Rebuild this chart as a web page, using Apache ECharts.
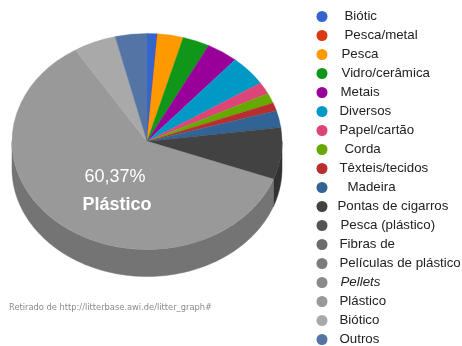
<!DOCTYPE html>
<html>
<head>
<meta charset="utf-8">
<style>html,body{margin:0;padding:0;background:#fff}#chart{width:462px;height:346px}</style>
<script src="https://cdn.jsdelivr.net/npm/echarts@6/dist/echarts.min.js"></script>
</head>
<body>
<div id="chart"></div>
<script>
// Composition of marine litter, percentages per category
const categories = ['Biótic','Pesca/metal','Pesca','Vidro/cerâmica','Metais','Diversos','Papel/cartão','Corda','Têxteis/tecidos','Madeira','Pontas de cigarros','Pesca (plástico)','Fibras de','Películas de plástico','Pellets','Plástico','Biótico','Outros'];
const shares = [1.22,0.04,3.07,3.22,3.78,4.56,1.78,1.53,1.22,2.5,7.72,0.03,0.02,0.03,0.02,60.37,5.1,3.79];
const palette = ['#3366cc','#dc3912','#ff9900','#109618','#990099','#0099c6','#dd4477','#66aa00','#b82e2e','#316395','#424242','#555555','#6c6c6c','#7c7c7c','#8a8a8a','#999999','#a9a9a9','#5574a6'];
// Left padding of each legend label
const labelIndent = [12,12,9,9,8,7,7,12,7,15,5,8,7,7,8,7,7,7];

// Tilted disc geometry
const CX = 147, CY = 141.5, RX = 135, RY = 108, DEPTH = 27;
const total = shares.reduce((a, b) => a + b, 0);
const highlighted = categories.indexOf('Plástico');

function angleBefore(i) {
  let sum = 0;
  for (let k = 0; k < i; k++) sum += shares[k];
  return sum / total * 2 * Math.PI;
}
// Point on the disc edge; angle is clockwise from the top
function edge(a, dy) {
  return [CX + RX * Math.sin(a), CY - RY * Math.cos(a) + dy];
}
function shade(color, factor) {
  const c = echarts.color.parse(color);
  return 'rgb(' + [0, 1, 2].map(k => Math.round(c[k] * factor)).join(',') + ')';
}

function sliceRenderer(i) {
  return function (params, api) {
    const color = api.visual('color');
    const start = angleBefore(i);
    const end = start + api.value(0) / total * 2 * Math.PI;
    const children = [];

    // Visible side wall: only the front half of the disc
    const a0 = Math.max(start, Math.PI / 2), a1 = Math.min(end, 3 * Math.PI / 2);
    if (a1 > a0) {
      const steps = Math.max(2, Math.ceil((a1 - a0) * 40));
      const pts = [];
      for (let s = 0; s <= steps; s++) pts.push(edge(a0 + (a1 - a0) * s / steps, 0));
      for (let s = steps; s >= 0; s--) pts.push(edge(a0 + (a1 - a0) * s / steps, DEPTH));
      const wall = shade(color, 0.76);
      children.push({ type: 'polygon', shape: { points: pts }, style: { fill: wall, stroke: wall, lineWidth: 0.5 } });
    }

    // Top face: a circular sector squashed vertically
    children.push({
      type: 'sector',
      x: CX, y: CY, scaleY: RY / RX,
      shape: { cx: 0, cy: 0, r0: 0, r: RX, startAngle: start - Math.PI / 2, endAngle: end - Math.PI / 2, clockwise: true },
      style: { fill: color, stroke: color, lineWidth: 0.4 }
    });

    if (i === highlighted) {
      const pct = api.value(0).toFixed(2).replace('.', ',') + '%';
      children.push({ type: 'text', z2: 10, x: 115, y: 177,
        style: { text: pct, fill: '#fff', font: '18px "Liberation Sans"', align: 'center', verticalAlign: 'middle' } });
      children.push({ type: 'text', z2: 10, x: 117, y: 205,
        style: { text: categories[i], fill: '#fff', font: 'bold 18px "Liberation Sans"', align: 'center', verticalAlign: 'middle' } });
    }
    return { type: 'group', children };
  };
}

const labelStyles = {};
categories.forEach((name, i) => {
  labelStyles['r' + i] = {
    padding: [0, 0, 0, labelIndent[i]],
    fontStyle: name === 'Pellets' ? 'italic' : 'normal',
    fontFamily: '"Liberation Sans"', fontSize: 13.3, lineHeight: 11, height: 11, color: '#222'
  };
});

const chart = echarts.init(document.getElementById('chart'), null, { renderer: 'canvas' });
chart.setOption({
  animation: false,
  color: palette,
  title: {
    text: 'Retirado de http://litterbase.awi.de/litter_graph#',
    left: 9, top: 304, padding: 0,
    textStyle: { fontFamily: '"DejaVu Sans"', fontSize: 8.3, fontWeight: 'normal', color: '#8a8a8a' }
  },
  legend: {
    orient: 'vertical', left: 316.5, top: 10, padding: 0,
    itemWidth: 11, itemHeight: 11, itemGap: 6, icon: 'circle',
    selectedMode: false, data: categories,
    formatter: name => '{r' + categories.indexOf(name) + '|' + name + '}',
    textStyle: { rich: labelStyles }
  },
  series: categories.map((name, i) => ({
    type: 'custom', name, coordinateSystem: 'none',
    data: [[shares[i]]],
    renderItem: sliceRenderer(i)
  }))
});
</script>
</body>
</html>
